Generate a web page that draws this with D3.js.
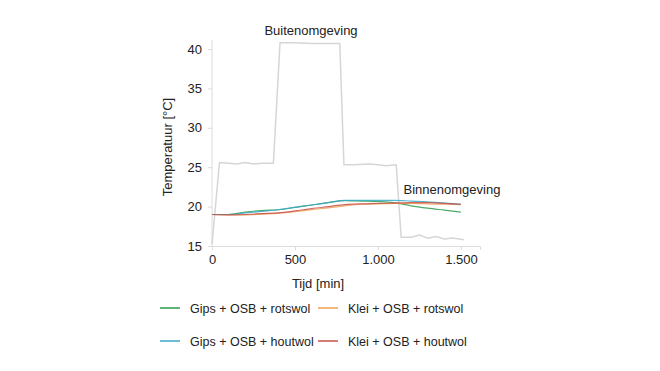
<!DOCTYPE html>
<html>
<head>
<meta charset="utf-8">
<script src="https://cdn.jsdelivr.net/npm/d3@7"></script>
<style>
  body { margin: 0; background: #fff; }
  text { font-family: "Liberation Sans", Arial, sans-serif; fill: #222; }
</style>
</head>
<body>
<div id="chart"></div>
<script>
const width = 660, height = 371

// tijd [min] en temperatuur [°C]
const tijd = [0, 100, 200, 300, 400, 500, 600, 700, 800, 900, 1000, 1100, 1200, 1300, 1400, 1500]
const gipsRotswol = [19.0, 19.0, 19.3, 19.5, 19.6, 19.9, 20.2, 20.5, 20.75, 20.7, 20.65, 20.5, 20.1, 19.8, 19.55, 19.3]
const kleiRotswol = [19.0, 18.95, 18.95, 19.05, 19.15, 19.35, 19.6, 19.85, 20.1, 20.3, 20.35, 20.4, 20.4, 20.35, 20.3, 20.25]
const gipsHoutwol = [19.0, 19.0, 19.2, 19.4, 19.6, 19.9, 20.2, 20.5, 20.8, 20.8, 20.8, 20.8, 20.7, 20.6, 20.45, 20.3]
const kleiHoutwol = [19.0, 18.95, 19.0, 19.1, 19.2, 19.45, 19.75, 20.0, 20.25, 20.35, 20.4, 20.45, 20.5, 20.5, 20.4, 20.3]

const buitenTijd = [0, 45, 100, 150, 200, 250, 300, 370, 410, 500, 600, 700, 770, 795, 850, 950, 1000, 1050, 1110, 1140, 1200, 1250, 1300, 1350, 1400, 1450, 1520]
const buitenTemp = [15.2, 25.6, 25.5, 25.4, 25.6, 25.4, 25.5, 25.5, 40.8, 40.8, 40.7, 40.7, 40.7, 25.3, 25.3, 25.4, 25.3, 25.2, 25.3, 16.1, 16.1, 16.4, 16.0, 16.2, 15.9, 16.0, 15.8]

const seriesNames = ["Gips + OSB + rotswol", "Klei + OSB + rotswol", "Gips + OSB + houtwol", "Klei + OSB + houtwol"]
const seriesValues = [gipsRotswol, kleiRotswol, gipsHoutwol, kleiHoutwol]
const color = ["#2e9a4e", "#f0a050", "#3aa8c8", "#c8504a"]

const yTicks = [15, 20, 25, 30, 35, 40]
const xTicks = [0, 500, 1000, 1500]

const nl = d3.formatLocale({ decimal: ",", thousands: ".", grouping: [3], currency: ["€", ""] })

const svg = d3.select("#chart").append("svg")
  .attr("width", width)
  .attr("height", height)

const x = d3.scaleLinear().domain([0, 1615]).range([212, 480])
const y = d3.scaleLinear().domain([15, 40]).range([246, 49])

// y-as
const yAxis = svg.append("g")
  .attr("transform", "translate(212,0)")
  .call(d3.axisLeft(y).tickValues(yTicks).tickSize(4).tickPadding(6))
yAxis.select(".domain").attr("d", `M0,${y(15)}V${y(41.15)}`)

// x-as
const xAxis = svg.append("g")
  .attr("transform", `translate(0,${y(15)})`)
  .call(d3.axisBottom(x).tickValues(xTicks).tickSize(4).tickPadding(5).tickFormat(nl.format(",")))

svg.selectAll(".domain").attr("stroke", "#dcdcdc")
svg.selectAll(".tick line").attr("stroke", "#dcdcdc")
svg.selectAll(".tick text").style("font-size", "13px").attr("fill", "#222")

// lijnen
const line = d3.line().x(d => x(d[0])).y(d => y(d[1]))

svg.append("path")
  .datum(d3.zip(buitenTijd, buitenTemp))
  .attr("fill", "none")
  .attr("stroke", "#d6d6d6")
  .attr("stroke-width", 1.5)
  .attr("d", line)

const smooth = d3.line().x(d => x(d[0])).y(d => y(d[1])).curve(d3.curveMonotoneX)
seriesValues.forEach((vals, i) => {
  svg.append("path")
    .datum(d3.zip(tijd, vals))
    .attr("fill", "none")
    .attr("stroke", color[i])
    .attr("stroke-width", 1.2)
    .attr("opacity", 0.85)
    .attr("d", smooth)
})

// labels
svg.append("text")
  .attr("x", 311).attr("y", 35)
  .attr("text-anchor", "middle")
  .style("font-size", "13px")
  .text("Buitenomgeving")

svg.append("text")
  .attr("x", 452).attr("y", 194)
  .attr("text-anchor", "middle")
  .style("font-size", "13px")
  .text("Binnenomgeving")

svg.append("text")
  .attr("transform", "translate(172,147) rotate(-90)")
  .attr("text-anchor", "middle")
  .style("font-size", "13px")
  .text("Temperatuur [°C]")

svg.append("text")
  .attr("x", 318).attr("y", 288)
  .attr("text-anchor", "middle")
  .style("font-size", "13px")
  .text("Tijd [min]")

// legenda
const legendPos = [[160, 308], [318, 308], [160, 341], [318, 341]]
seriesNames.forEach((name, i) => {
  const g = svg.append("g").attr("transform", `translate(${legendPos[i][0]},${legendPos[i][1]})`)
  g.append("line").attr("x1", 0).attr("x2", 20).attr("y1", 0).attr("y2", 0)
    .attr("stroke", color[i]).attr("stroke-width", 1.5)
  g.append("text").attr("x", 30).attr("y", 4.5)
    .style("font-size", "12.5px")
    .text(name)
})
</script>
</body>
</html>
